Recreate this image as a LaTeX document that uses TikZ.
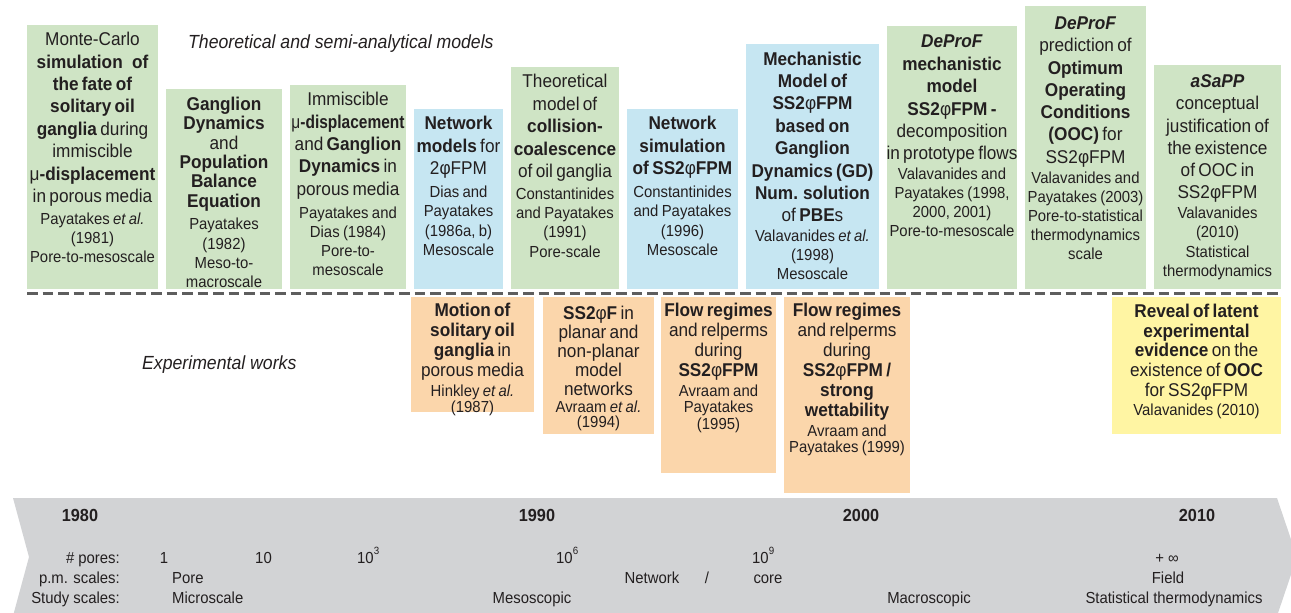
\documentclass[tikz,border=0pt]{standalone}
\usepackage{graphicx}
\usepackage{fontspec}
\setmainfont{Liberation Sans}[FakeStretch=0.93]
\setlength{\parindent}{0pt}

\definecolor{ink}{HTML}{231F20}
\definecolor{cgreen}{HTML}{CFE4C5}
\definecolor{cblue}{HTML}{C6E6F2}
\definecolor{corange}{HTML}{FBD6AB}
\definecolor{cyellow}{HTML}{FFF5A3}
\definecolor{cband}{HTML}{D2D3D5}
\definecolor{cdash}{HTML}{5E5E5E}

% upright Greek letters inside bold runs
\newcommand{\phiup}{{\mdseries φ}}
\newcommand{\muup}{{\mdseries μ}}
% title lines of a box: #1 = line spacing, #2 = lines
\newcommand{\headpar}[2]{{\centering\lineskiplimit=-20pt\fontsize{18.5}{#1}\selectfont #2\par}}
% reference lines of a box: #1 = gap from the title block, #2 = line spacing, #3 = lines
\newcommand{\refblock}[3]{\vspace{\dimexpr #1pt-#2pt\relax}{\centering\lineskiplimit=-20pt\fontsize{16}{#2}\selectfont #3\par}}
% raised exponent in the timeline
\newcommand{\expo}[1]{\raisebox{8.5pt}{\fontsize{10.5}{11}\selectfont #1}}

\tikzset{
  cardbox/.style={draw=none, inner sep=0pt, outer sep=0pt, anchor=north west},
  cardtxt/.style={anchor=north, inner sep=0pt, text width=200pt, text=ink},
  bandtxt/.style={inner sep=0pt, text=ink, font=\fontsize{16}{18}\selectfont},
  yeartxt/.style={inner sep=0pt, anchor=base, text=ink, font=\fontsize{17.5}{20}\selectfont\bfseries},
  sectxt/.style={inner sep=0pt, anchor=base west, text=ink, font=\fontsize{19}{22}\selectfont\itshape},
  dashline/.style={draw=cdash, line width=2.6pt, dash pattern=on 10.5pt off 5pt}
}

\begin{document}
\begin{tikzpicture}[x=1pt, y=-1pt]
\useasboundingbox (0,0) rectangle (1291,613);
\clip (0,0) rectangle (1291,613);

% timeline band
\fill[cband] (13,498) -- (1277,498) -- (1297,557) -- (1277,616) -- (13,616) -- (29,557) -- cycle;

% ---------- theoretical and semi-analytical models ----------
\node[cardbox, fill=cgreen, minimum width=131pt, minimum height=264pt] (b1) at (27,25) {};
\node[cardtxt] (t1) at (92.5,32) {\headpar{22.4}{Monte-Carlo\\ \textbf{simulation\enspace of}\\ \textbf{the fate of}\\ \textbf{solitary oil}\\ \textbf{ganglia} during\\ immiscible\\ \muup\textbf{-displacement}\\ in porous media}\refblock{22.5}{18.8}{Payatakes \textit{et al.}\\ (1981)\\ Pore-to-mesoscale}};

\node[cardbox, fill=cgreen, minimum width=116pt, minimum height=200pt] (b2) at (166,89) {};
\node[cardtxt] (t2) at (224,97) {\headpar{19.3}{\textbf{Ganglion}\\ \textbf{Dynamics}\\ and\\ \textbf{Population}\\ \textbf{Balance}\\ \textbf{Equation}}\refblock{22.7}{19.3}{Payatakes\\ (1982)\\ Meso-to-\\ macroscale}};

\node[cardbox, fill=cgreen, minimum width=116pt, minimum height=204pt] (b3) at (290,85) {};
\node[cardtxt] (t3) at (348,92) {\headpar{22.4}{Immiscible\\ \scalebox{0.9}[1]{\muup\textbf{-displacement}}\\ and \textbf{Ganglion}\\ \textbf{Dynamics} in\\ porous media}\refblock{23}{19}{Payatakes and\\ Dias (1984)\\ Pore-to-\\ mesoscale}};

\node[cardbox, fill=cblue, minimum width=89pt, minimum height=180pt] (b4) at (414,109) {};
\node[cardtxt] (t4) at (458.5,116) {\headpar{22.5}{\textbf{Network}\\ \textbf{models} for\\ 2φFPM}\refblock{23}{19.2}{Dias and\\ Payatakes\\ (1986a, b)\\ Mesoscale}};

\node[cardbox, fill=cgreen, minimum width=108pt, minimum height=222pt] (b5) at (511,67) {};
\node[cardtxt] (t5) at (565,74) {\headpar{22.5}{Theoretical\\ model of\\ \textbf{collision-}\\ \textbf{coalescence}\\ of oil ganglia}\refblock{21.7}{19.3}{Constantinides\\ and Payatakes\\ (1991)\\ Pore-scale}};

\node[cardbox, fill=cblue, minimum width=111pt, minimum height=180pt] (b6) at (627,109) {};
\node[cardtxt] (t6) at (682.5,116) {\headpar{22.5}{\textbf{Network}\\ \textbf{simulation}\\ \textbf{of SS2\phiup FPM}}\refblock{23}{19.2}{Constantinides\\ and Payatakes\\ (1996)\\ Mesoscale}};

\node[cardbox, fill=cblue, minimum width=133pt, minimum height=245pt] (b7) at (746,44) {};
\node[cardtxt] (t7) at (812.5,51.5) {\headpar{22.4}{\textbf{Mechanistic}\\ \textbf{Model of}\\ \textbf{SS2\phiup FPM}\\ \textbf{based on}\\ \textbf{Ganglion}\\ \textbf{Dynamics (GD)}\\ \textbf{Num. solution}\\ of \textbf{PBE}s}\refblock{20}{19}{Valavanides \textit{et al.}\\ (1998)\\ Mesoscale}};

\node[cardbox, fill=cgreen, minimum width=130pt, minimum height=263pt] (b8) at (887,26) {};
\node[cardtxt] (t8) at (952,35) {\headpar{22.4}{\textbf{\textit{DeProF}}\\ \textbf{mechanistic}\\ \textbf{model}\\ \textbf{SS2\phiup FPM -}\\ decomposition\\ in prototype flows}\refblock{20}{19}{Valavanides and\\ Payatakes (1998,\\ 2000, 2001)\\ Pore-to-mesoscale}};

\node[cardbox, fill=cgreen, minimum width=121pt, minimum height=283pt] (b9) at (1025,6) {};
\node[cardtxt] (t9) at (1085.5,16.5) {\headpar{22.3}{\textbf{\textit{DeProF}}\\ prediction of\\ \textbf{Optimum}\\ \textbf{Operating}\\ \textbf{Conditions}\\ \textbf{(OOC)} for\\ SS2φFPM}\refblock{20}{19}{Valavanides and\\ Payatakes (2003)\\ Pore-to-statistical\\ thermodynamics\\ scale}};

\node[cardbox, fill=cgreen, minimum width=127pt, minimum height=224pt] (b10) at (1154,65) {};
\node[cardtxt] (t10) at (1217.5,74.5) {\headpar{22.2}{\textbf{\textit{aSaPP}}\\ conceptual\\ justification of\\ the existence\\ of OOC in\\ SS2φFPM}\refblock{20}{19.3}{Valavanides\\ (2010)\\ Statistical\\ thermodynamics}};

% separator between the two families of works
\coordinate (dl) at (27,293.3);
\coordinate (dr) at (1281,293.3);
\draw[dashline] (dl) -- (dr);

% ---------- experimental works ----------
\node[cardbox, fill=corange, minimum width=123pt, minimum height=115pt] (e1) at (411,297) {};
\node[cardtxt] (u1) at (472.5,303.3) {\headpar{20}{\textbf{Motion of}\\ \textbf{solitary oil}\\ \textbf{ganglia} in\\ porous media}\refblock{19.7}{16}{Hinkley \textit{et al.}\\ (1987)}};

\node[cardbox, fill=corange, minimum width=111pt, minimum height=137pt] (e2) at (543,297) {};
\node[cardtxt] (u2) at (598.5,306) {\headpar{18.9}{\textbf{SS2\phiup F} in\\ planar and\\ non-planar\\ model\\ networks}\refblock{17.7}{15}{Avraam \textit{et al.}\\ (1994)}};

\node[cardbox, fill=corange, minimum width=115pt, minimum height=176pt] (e3) at (661,297) {};
\node[cardtxt] (u3) at (718.5,303.3) {\headpar{20}{\textbf{Flow regimes}\\ and relperms\\ during\\ \textbf{SS2\phiup FPM}}\refblock{19.7}{16.3}{Avraam and\\ Payatakes\\ (1995)}};

\node[cardbox, fill=corange, minimum width=126pt, minimum height=196pt] (e4) at (784,297) {};
\node[cardtxt] (u4) at (847,303.3) {\headpar{19.9}{\textbf{Flow regimes}\\ and relperms\\ during\\ \textbf{SS2\phiup FPM /}\\ \textbf{strong}\\ \textbf{wettability}}\refblock{20}{16}{Avraam and\\ Payatakes (1999)}};

\node[cardbox, fill=cyellow, minimum width=169pt, minimum height=137pt] (e5) at (1112,297) {};
\node[cardtxt] (u5) at (1196.5,304) {\headpar{19.6}{\textbf{Reveal of latent}\\ \textbf{experimental}\\ \textbf{evidence} on the\\ existence of \textbf{OOC}\\ for SS2φFPM}\refblock{19.3}{16}{Valavanides (2010)}};

% section captions
\node[sectxt] (capth) at (188,48) {Theoretical and semi-analytical models};
\node[sectxt] (capex) at (142,369) {Experimental works};

% ---------- timeline contents ----------
\node[yeartxt] (y80) at (80,521) {1980};
\node[yeartxt] (y90) at (537,521) {1990};
\node[yeartxt] (y00) at (861,521) {2000};
\node[yeartxt] (y10) at (1197,521) {2010};

\node[bandtxt, anchor=base east] (lpores) at (120,563) {\# pores:};
\node[bandtxt, anchor=base east] (lpm) at (120,583) {p.m. scales:};
\node[bandtxt, anchor=base east] (lstudy) at (120,603) {Study scales:};

\node[bandtxt, anchor=base] (p1) at (164,563) {1};
\node[bandtxt, anchor=base] (p2) at (263.5,563) {10};
\node[bandtxt, anchor=base west] (p3) at (357,563) {10\expo{3}};
\node[bandtxt, anchor=base west] (p4) at (556,563) {10\expo{6}};
\node[bandtxt, anchor=base west] (p5) at (752,563) {10\expo{9}};
\node[bandtxt, anchor=base] (p6) at (1167,563) {+ ∞};

\node[bandtxt, anchor=base west] (s1) at (172,583) {Pore};
\node[bandtxt, anchor=base] (s2) at (652,583) {Network};
\node[bandtxt, anchor=base] (s3) at (707,583) {/};
\node[bandtxt, anchor=base] (s4) at (768,583) {core};
\node[bandtxt, anchor=base] (s5) at (1168,583) {Field};

\node[bandtxt, anchor=base west] (c1) at (172,603) {Microscale};
\node[bandtxt, anchor=base] (c2) at (532,603) {Mesoscopic};
\node[bandtxt, anchor=base] (c3) at (929,603) {Macroscopic};
\node[bandtxt, anchor=base] (c4) at (1174,603) {Statistical thermodynamics};
\end{tikzpicture}
\end{document}
